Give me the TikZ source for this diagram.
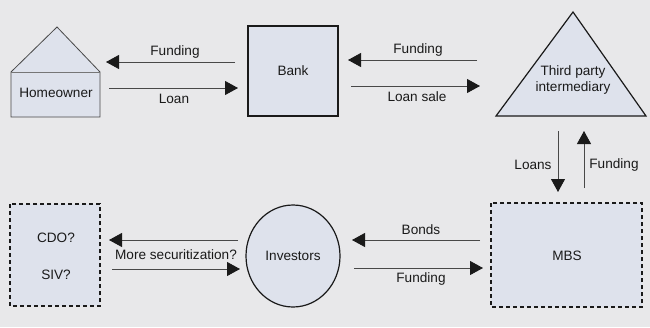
\documentclass[tikz,border=0pt]{standalone}
\usepackage{fontspec}
\setmainfont{Liberation Sans}
\usetikzlibrary{arrows.meta,shapes.geometric}
\definecolor{bg}{HTML}{E8E8EA}
\definecolor{boxfill}{HTML}{DEE2EC}
\definecolor{ink}{HTML}{1A1A1A}
\begin{document}
\begin{tikzpicture}[x=1pt,y=-1pt,
  font=\fontsize{13.6}{15.5}\selectfont,
  flow/.style={draw=ink!80,line width=0.9pt,-{Triangle[length=13pt,width=14pt,color=ink,fill=ink]}},
  lbl/.style={inner sep=0pt,text=ink},
  solidbox/.style={draw=ink,line width=2pt,fill=boxfill},
  dashbox/.style={draw=ink,line width=1.6pt,fill=boxfill,dash pattern=on 4pt off 3pt}
]
\fill[bg] (0,0) rectangle (650,327);
\useasboundingbox (0,0) rectangle (650,327);
% Homeowner house
\filldraw[fill=boxfill,draw=ink!80,line width=0.8pt] (11,117) -- (11,72) -- (57,27) -- (100,72) -- (100,117) -- cycle;
\draw[ink!60,line width=0.8pt] (11,72) -- (100,72);
\node[lbl] (home) at (56,93) {Homeowner};
% Bank
\draw[solidbox] (248,26) rectangle (338,116);
\node[lbl] (bank) at (293,71) {Bank};
% Triangle
\filldraw[fill=boxfill,draw=ink,line width=1.2pt] (496,116) -- (573,12) -- (646,116) -- cycle;
\node[lbl,align=center] (third) at (573,80) {Third party\\intermediary};
% MBS
\draw[dashbox] (491,203) rectangle (642,307);
\node[lbl] (mbs) at (567,256) {MBS};
% Investors
\draw[fill=boxfill,draw=ink,line width=1.2pt] (293,256) ellipse [x radius=47, y radius=51];
\node[lbl] (inv) at (293,256) {Investors};
% CDO/SIV
\draw[dashbox] (10,204) rectangle (100,306);
\node[lbl] (cdo) at (56,238) {CDO?};
\node[lbl] (siv) at (56,275) {SIV?};
% coordinates
\coordinate (a1s) at (235,62); \coordinate (a1e) at (106,62);
\coordinate (a2s) at (109,88); \coordinate (a2e) at (238,88);
\coordinate (b1s) at (477,60); \coordinate (b1e) at (348,60);
\coordinate (b2s) at (351,86); \coordinate (b2e) at (480,86);
\coordinate (c1s) at (558,131); \coordinate (c1e) at (558,192);
\coordinate (c2s) at (584,188); \coordinate (c2e) at (584,131);
\coordinate (d1s) at (480,240); \coordinate (d1e) at (352,240);
\coordinate (d2s) at (354,268); \coordinate (d2e) at (483,268);
\coordinate (e1s) at (238,240); \coordinate (e1e) at (109,240);
\coordinate (e2s) at (112,269); \coordinate (e2e) at (240,269);
\draw[flow] (a1s) -- (a1e);
\draw[flow] (a2s) -- (a2e);
\draw[flow] (b1s) -- (b1e);
\draw[flow] (b2s) -- (b2e);
\draw[flow] (c1s) -- (c1e);
\draw[flow] (c2s) -- (c2e);
\draw[flow] (d1s) -- (d1e);
\draw[flow] (d2s) -- (d2e);
\draw[flow] (e1s) -- (e1e);
\draw[flow] (e2s) -- (e2e);
% labels
\node[lbl] (l1) at (175,52) {Funding};
\node[lbl] (l2) at (174,99) {Loan};
\node[lbl] (l3) at (418,50) {Funding};
\node[lbl] (l4) at (417,97) {Loan sale};
\node[lbl] (l5) at (533,165) {Loans};
\node[lbl] (l6) at (614,165) {Funding};
\node[lbl] (l7) at (421,230) {Bonds};
\node[lbl] (l8) at (421,279) {Funding};
\node[lbl] (l9) at (176,255) {More securitization?};
\end{tikzpicture}
\end{document}
